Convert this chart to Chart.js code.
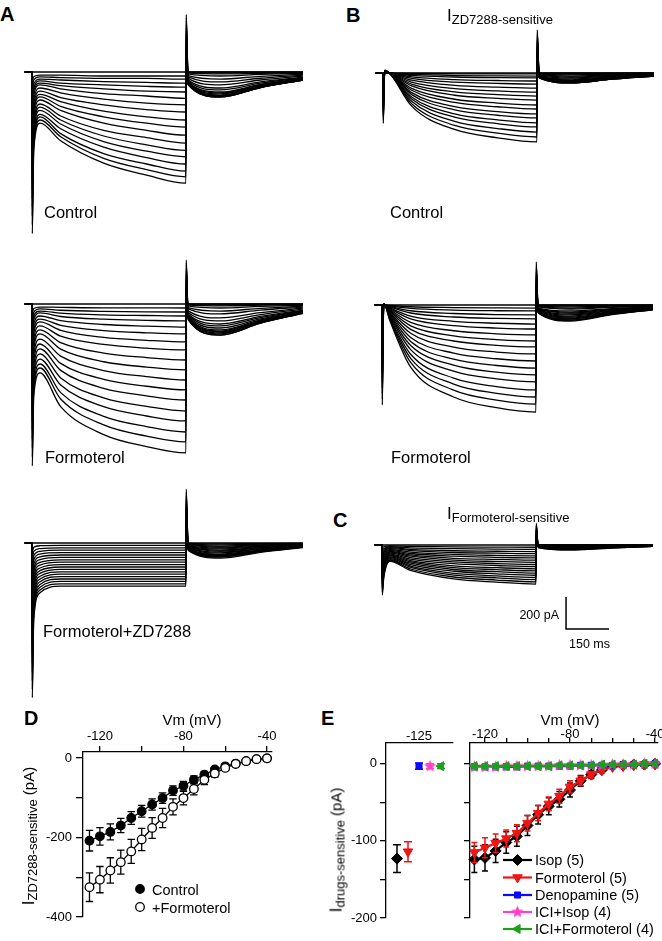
<!DOCTYPE html>
<html lang="en">
<head>
<meta charset="utf-8">
<title>Ih traces and I-V relations</title>
<script src="https://cdn.jsdelivr.net/npm/chart.js@4.4.1/dist/chart.umd.min.js"></script>
<style>
  html, body { margin: 0; padding: 0; background: #fff; }
  body { position: relative; width: 662px; height: 941px; overflow: hidden;
         font-family: "Liberation Sans", Arial, sans-serif; color: #000; }
  canvas { position: absolute; }
  .t { position: absolute; white-space: nowrap; line-height: 1; }
  .letter { font-weight: bold; font-size: 20px; }
  .cond { font-size: 16.5px; }
  .ttl { font-size: 17px; }
  .ttl sub, .yt sub { font-size: 13px; vertical-align: baseline; position: relative; top: 3px; }
  .small { font-size: 12.5px; }
  .vm { font-size: 15px; transform: translateX(-50%); }
  .yt { position: absolute; width: 0; height: 0; }
  .yt > span { position: absolute; left: 0; top: 0; white-space: nowrap; line-height: 1;
               font-size: 15px; transform: translate(-50%, -50%) rotate(-90deg); }
  .yt .big { font-size: 17px; }
</style>
</head>
<body>

<canvas id="a1"></canvas>
<canvas id="a2"></canvas>
<canvas id="a3"></canvas>
<canvas id="b1"></canvas>
<canvas id="b2"></canvas>
<canvas id="c1"></canvas>
<canvas id="d-chart" width="245" height="241" style="left:40px;top:700px"></canvas>
<canvas id="e-left" width="122" height="228" style="left:336px;top:713px"></canvas>
<canvas id="e-right" width="200" height="228" style="left:462px;top:713px"></canvas>

<div class="t letter" style="left:0;top:4px">A</div>
<div class="t letter" style="left:346px;top:5px">B</div>
<div class="t letter" style="left:333px;top:510px">C</div>
<div class="t letter" style="left:24px;top:708px">D</div>
<div class="t letter" style="left:321px;top:708px">E</div>

<div class="t ttl" style="left:447px;top:7px">I<sub>ZD7288-sensitive</sub></div>
<div class="t ttl" style="left:447px;top:505px">I<sub>Formoterol-sensitive</sub></div>

<div class="t cond" style="left:44px;top:204px">Control</div>
<div class="t cond" style="left:45px;top:449px">Formoterol</div>
<div class="t cond" style="left:43px;top:623px">Formoterol+ZD7288</div>
<div class="t cond" style="left:390px;top:204px">Control</div>
<div class="t cond" style="left:391px;top:449px">Formoterol</div>

<div class="t small" style="right:103px;top:609px">200 pA</div>
<div class="t small" style="left:569px;top:638px">150 ms</div>

<div class="t vm" style="left:192px;top:712px">Vm (mV)</div>
<div class="t vm" style="left:570px;top:712px">Vm (mV)</div>

<div class="yt" style="left:28px;top:836px"><span><span class="big">I</span><sub>ZD7288-sensitive</sub> (pA)</span></div>
<div class="yt" style="left:336px;top:850px"><span><span class="big">I</span><sub>drugs-sensitive</sub> (pA)</span></div>

<script>
(function () {
    'use strict';

    Chart.defaults.font.family = '"Liberation Sans", Arial, sans-serif';
    Chart.defaults.color = '#000';

    /* ── Trace sampling times (ms from step onset) ── */
    var HOLD_T = [-25, 0];
    var HOLD_PA = 0;
    var STEP_T = [1, 6, 28, 100, 250, 400, 537];
    var TAIL_T = [538, 545, 657, 797, 945];

    /* ── Sweeps, pA: 7 step samples then 5 tail samples, holding -40 mV down to -130 mV ── */
    var a1Sweeps = [
        [0, 0, 0, 0, 0, 0, 0, 0, 0, 0, 0, 0],
        [-55, -30, -20, -20, -25, -25, -25, 20, 0, 0, 0, 0],
        [-110, -50, -30, -35, -40, -40, -45, 40, -3, -6, -4, -2],
        [-170, -75, -45, -50, -60, -65, -70, 60, -6, -12, -8, -4],
        [-225, -100, -55, -70, -80, -90, -95, 80, -12, -25, -15, -8],
        [-280, -120, -70, -85, -105, -120, -125, 100, -22, -44, -27, -14],
        [-340, -145, -80, -105, -135, -150, -165, 120, -31, -62, -39, -20],
        [-395, -175, -100, -130, -170, -195, -205, 140, -40, -81, -50, -26],
        [-450, -200, -120, -160, -205, -235, -250, 160, -50, -100, -62, -32],
        [-505, -230, -140, -185, -245, -280, -300, 180, -56, -112, -70, -36],
        [-560, -255, -155, -215, -280, -320, -345, 200, -62, -125, -78, -40],
        [-620, -285, -175, -240, -320, -365, -395, 220, -65, -131, -81, -42],
        [-675, -320, -200, -275, -365, -410, -445, 240, -69, -137, -85, -44],
        [-730, -345, -220, -300, -400, -455, -490, 260, -72, -144, -89, -46],
        [-790, -375, -240, -325, -435, -495, -530, 280, -75, -150, -93, -48],
        [-845, -405, -265, -355, -470, -535, -575, 300, -75, -150, -93, -48],
        [-900, -435, -280, -385, -510, -575, -620, 320, -78, -156, -97, -50],
        [-955, -465, -300, -405, -540, -610, -655, 340, -78, -156, -97, -50],
        [-1010, -490, -320, -430, -570, -645, -695, 360, -78, -156, -97, -50]
    ];

    var a2Sweeps = [
        [0, 0, 0, 0, 0, 0, 0, 0, 0, 0, 0, 0],
        [-56, -28, -19, -21, -24, -24, -25, 15, 0, 0, 0, 0],
        [-112, -52, -31, -39, -46, -49, -50, 31, -3, -6, -4, -2],
        [-169, -75, -44, -57, -68, -72, -75, 46, -6, -12, -7, -4],
        [-225, -99, -56, -78, -95, -102, -106, 61, -12, -25, -15, -8],
        [-281, -127, -75, -104, -128, -138, -144, 77, -22, -44, -27, -13],
        [-337, -155, -94, -133, -166, -180, -187, 92, -31, -62, -38, -19],
        [-394, -183, -112, -165, -209, -227, -237, 107, -43, -87, -54, -26],
        [-450, -216, -137, -201, -253, -276, -287, 122, -53, -106, -66, -32],
        [-506, -249, -162, -241, -307, -335, -350, 138, -62, -125, -78, -38],
        [-562, -281, -187, -282, -361, -394, -412, 153, -69, -137, -85, -41],
        [-619, -319, -219, -326, -416, -454, -475, 168, -75, -150, -93, -45],
        [-675, -356, -250, -371, -471, -514, -537, 184, -81, -162, -100, -49],
        [-731, -394, -281, -415, -527, -574, -600, 199, -84, -169, -105, -51],
        [-787, -431, -312, -462, -587, -640, -669, 214, -87, -175, -108, -52],
        [-844, -469, -344, -506, -642, -700, -731, 230, -90, -181, -112, -54],
        [-900, -506, -375, -554, -702, -766, -800, 245, -94, -187, -116, -56],
        [-956, -539, -400, -594, -756, -826, -862, 260, -97, -194, -120, -58],
        [-1012, -577, -431, -641, -816, -891, -931, 275, -97, -194, -120, -58]
    ];

    var a3Sweeps = [
        [0, 0, 0, 0, 0, 0, 0, 0, 0, 0, 0, 0],
        [-54, -27, -17, -15, -15, -15, -15, 19, -3, -6, -4, -2],
        [-107, -53, -35, -30, -30, -30, -30, 37, -6, -12, -7, -4],
        [-161, -80, -52, -45, -45, -45, -45, 56, -9, -19, -12, -6],
        [-215, -106, -69, -60, -60, -60, -60, 75, -12, -25, -15, -8],
        [-269, -133, -87, -75, -75, -75, -75, 94, -16, -31, -19, -9],
        [-322, -160, -104, -90, -90, -90, -90, 112, -19, -37, -23, -11],
        [-376, -186, -121, -105, -105, -105, -105, 131, -22, -44, -27, -13],
        [-430, -213, -138, -120, -120, -120, -120, 150, -25, -50, -31, -15],
        [-484, -239, -156, -135, -135, -135, -135, 169, -28, -56, -35, -17],
        [-537, -266, -173, -150, -150, -150, -150, 187, -31, -62, -38, -19],
        [-591, -293, -190, -165, -165, -165, -165, 206, -34, -69, -43, -21],
        [-645, -319, -208, -180, -180, -180, -180, 225, -37, -75, -46, -22],
        [-699, -346, -225, -195, -195, -195, -195, 244, -37, -75, -46, -22],
        [-752, -372, -242, -210, -210, -210, -210, 262, -41, -81, -50, -24],
        [-806, -399, -260, -225, -225, -225, -225, 281, -41, -81, -50, -24],
        [-860, -426, -277, -240, -240, -240, -240, 300, -44, -87, -54, -26],
        [-914, -452, -294, -255, -255, -255, -255, 319, -44, -87, -54, -26],
        [-967, -479, -311, -270, -270, -270, -270, 337, -47, -94, -58, -28]
    ];

    var b1Sweeps = [
        [0, 0, 0, 0, 0, 0, 0, 0, 0, 0, 0, 0],
        [-18, 1, 0, -3, -5, -6, -6, 15, 0, 0, 0, 0],
        [-35, 2, -1, -9, -16, -18, -19, 30, -3, -6, -4, -2],
        [-52, 3, -1, -15, -25, -29, -31, 45, -3, -6, -4, -2],
        [-70, 4, -2, -24, -41, -47, -50, 60, -6, -12, -7, -4],
        [-88, 5, -2, -33, -57, -65, -69, 75, -9, -19, -12, -6],
        [-105, 6, -3, -45, -77, -88, -94, 90, -12, -25, -15, -7],
        [-122, 7, -4, -57, -98, -112, -119, 105, -16, -31, -19, -9],
        [-140, 8, -4, -69, -118, -135, -144, 120, -19, -37, -23, -11],
        [-158, 9, -5, -81, -139, -159, -169, 135, -22, -44, -27, -13],
        [-175, 10, -6, -96, -164, -188, -200, 150, -22, -44, -27, -13],
        [-192, 11, -7, -108, -184, -211, -225, 165, -25, -50, -31, -15],
        [-210, 12, -8, -123, -210, -241, -256, 180, -25, -50, -31, -15],
        [-228, 13, -8, -135, -230, -264, -281, 195, -28, -56, -35, -17],
        [-245, 14, -9, -150, -256, -293, -312, 210, -28, -56, -35, -17],
        [-262, 15, -10, -162, -276, -317, -337, 225, -28, -56, -35, -17],
        [-280, 16, -11, -177, -303, -347, -369, 240, -31, -62, -38, -19],
        [-298, 17, -12, -192, -328, -376, -400, 255, -31, -62, -38, -19],
        [-315, 18, -13, -207, -353, -405, -431, 270, -31, -62, -38, -19]
    ];

    var b2Sweeps = [
        [0, 0, 0, 0, 0, 0, 0, 0, 0, 0, 0, 0],
        [-35, 0, -3, -11, -16, -18, -19, 15, 0, 0, 0, 0],
        [-69, 1, -6, -21, -32, -36, -37, 30, -3, -6, -4, -2],
        [-104, 1, -9, -36, -53, -60, -62, 45, -6, -12, -7, -4],
        [-139, 2, -13, -50, -75, -84, -87, 60, -9, -19, -12, -6],
        [-174, 2, -18, -69, -102, -114, -119, 75, -12, -25, -15, -7],
        [-208, 3, -22, -87, -129, -144, -150, 90, -19, -37, -23, -11],
        [-243, 3, -28, -108, -161, -180, -187, 105, -22, -44, -27, -13],
        [-278, 4, -34, -130, -193, -216, -225, 120, -25, -50, -31, -15],
        [-312, 4, -39, -152, -225, -252, -262, 135, -28, -56, -35, -17],
        [-347, 5, -46, -177, -263, -294, -306, 150, -31, -62, -38, -19],
        [-382, 5, -52, -203, -301, -336, -350, 165, -34, -69, -43, -21],
        [-416, 6, -59, -228, -339, -378, -394, 180, -37, -75, -46, -22],
        [-451, 6, -66, -253, -376, -420, -437, 195, -41, -81, -50, -24],
        [-486, 7, -72, -279, -414, -462, -481, 210, -44, -87, -54, -26],
        [-520, 7, -80, -308, -457, -510, -531, 225, -44, -87, -54, -26],
        [-555, 8, -86, -333, -494, -552, -575, 240, -47, -94, -58, -28],
        [-590, 8, -93, -359, -532, -594, -619, 255, -47, -94, -58, -28],
        [-625, 9, -100, -388, -575, -642, -669, 270, -50, -100, -62, -30]
    ];

    var cSweeps = [
        [0, 0, 0, 0, 0, 0, 0, 0, 0, 0, 0, 0],
        [-17, -12, -6, -9, -12, -13, -14, 8, 0, 0, 0, 0],
        [-35, -23, -11, -18, -23, -26, -27, 15, 0, 0, 0, 0],
        [-52, -35, -17, -27, -36, -39, -41, 23, -3, -6, -4, -2],
        [-70, -46, -23, -35, -47, -51, -54, 30, -3, -6, -4, -2],
        [-87, -58, -29, -44, -59, -65, -68, 38, -3, -6, -4, -2],
        [-104, -69, -34, -53, -70, -77, -81, 46, -6, -12, -7, -4],
        [-122, -81, -40, -62, -83, -90, -95, 53, -6, -12, -7, -4],
        [-139, -92, -45, -70, -94, -103, -108, 61, -6, -12, -7, -4],
        [-157, -104, -51, -79, -106, -116, -122, 68, -9, -19, -12, -6],
        [-174, -115, -57, -88, -117, -128, -135, 76, -9, -19, -12, -6],
        [-191, -127, -63, -97, -130, -142, -149, 84, -9, -19, -12, -6],
        [-209, -138, -68, -105, -141, -154, -162, 91, -9, -19, -12, -6],
        [-226, -150, -74, -114, -153, -167, -176, 99, -12, -25, -15, -8],
        [-244, -162, -79, -123, -164, -180, -189, 106, -12, -25, -15, -8],
        [-261, -173, -85, -132, -177, -193, -203, 114, -12, -25, -15, -8],
        [-278, -185, -91, -140, -188, -205, -216, 122, -12, -25, -15, -8],
        [-296, -196, -97, -150, -200, -219, -230, 129, -16, -31, -19, -9],
        [-313, -208, -102, -159, -212, -232, -244, 137, -16, -31, -19, -9]
    ];

    /* ── Scale bar ── */
    var SCALE_MS = 150;
    var SCALE_PA = 200;

    /* ── D: ZD7288-sensitive I-V ── */
    var dVm = [-125, -120, -115, -110, -105, -100, -95, -90, -85, -80, -75, -70, -65, -60, -55, -50, -45, -40];
    var dControl = [-208, -197, -186, -170, -151, -134, -117, -101, -82, -70, -55, -42, -29, -21, -14, -8, -3, -1];
    var dControlErr = [26, 22, 20, 18, 16, 15, 14, 13, 12, 11, 10, 8, 6, 5, 4, 3, 2, 2];
    var dFormoterol = [-325, -306, -283, -262, -235, -205, -176, -151, -123, -101, -78, -55, -39, -25, -15, -8, -3, -1];
    var dFormoterolErr = [36, 33, 32, 30, 30, 28, 26, 24, 20, 17, 15, 12, 9, 6, 4, 3, 2, 2];
    var dTicksX = [-120, -100, -80, -60, -40];
    var dLabelsX = [-120, -80, -40];
    var dTicksY = [0, -100, -200, -300, -400];
    var dLabelsY = [0, -200, -400];

    /* ── E: drug-sensitive I-V ── */
    var eSeries = ['Isop (5)', 'Formoterol (5)', 'Denopamine (5)', 'ICI+Isop (4)', 'ICI+Formoterol (4)'];
    var eVm = [-125, -120, -115, -110, -105, -100, -95, -90, -85, -80, -75, -70, -65, -60, -55, -50, -45, -40];
    var eIsop = [-124, -122, -113, -102, -94, -80, -66, -55, -46, -34, -22, -14, -8, -3, -2, -1, -1, 0];
    var eIsopErr = [17, 17, 15, 14, 13, 13, 12, 11, 10, 9, 7, 5, 3, 2, 2, 1, 1, 1];
    var eForm = [-115, -109, -103, -97, -90, -77, -64, -52, -42, -30, -22, -14, -8, -4, -3, -2, -1, -1];
    var eFormErr = [13, 13, 12, 11, 11, 10, 10, 9, 9, 8, 6, 4, 3, 2, 2, 1, 1, 1];
    var eDeno = [-4, -4, -4, -4, -4, -3, -3, -3, -3, -3, -2, -2, -2, -2, -1, -1, -1, 0];
    var eDenoErr = [3, 3, 3, 3, 3, 3, 2, 2, 2, 2, 2, 2, 2, 2, 1, 1, 1, 1];
    var eIciIsop = [-4, -4, -4, -3, -3, -3, -3, -3, -2, -2, -2, -2, -2, -1, -1, -1, 0, 0];
    var eIciIsopErr = [3, 3, 3, 3, 2, 2, 2, 2, 2, 2, 2, 2, 1, 1, 1, 1, 1, 1];
    var eIciForm = [-3, -3, -3, -3, -3, -3, -3, -3, -2, -2, -2, -2, -1, -1, -1, -1, 0, 0];
    var eIciFormErr = [3, 3, 3, 3, 2, 2, 2, 2, 2, 2, 2, 2, 1, 1, 1, 1, 1, 1];
    var eTicksX = [-120, -110, -100, -90, -80, -70, -60, -50, -40];
    var eLabelsX = [-120, -80, -40];
    var eTicksY = [0, -50, -100, -150, -200];
    var eLabelsY = [0, -100, -200];
    // left inset: all drugs at -125 mV, spread side by side
    var eLeftSlot = [-2, -1, 0, 1, 2];
    var eLeftMean = [-123, -114, -3, -3, -3];
    var eLeftErr = [18, 13, 4, 3, 3];
    var eLeftTickLabel = '-125';

    /* ── Layout (pixels) ── */
    var PX_PER_MS = 43 / 150;
    var PX_PER_PA = 32 / 200;
    var tracePanels = [
        { id: 'a1', sweeps: a1Sweeps, left: 20, top: 10, w: 290, h: 235, x0: 32, base: 72 },
        { id: 'a2', sweeps: a2Sweeps, left: 20, top: 255, w: 290, h: 220, x0: 32, base: 304 },
        { id: 'a3', sweeps: a3Sweeps, left: 20, top: 482, w: 290, h: 222, x0: 32, base: 543 },
        { id: 'b1', sweeps: b1Sweeps, left: 370, top: 22, w: 290, h: 130, x0: 383, base: 73 },
        { id: 'b2', sweeps: b2Sweeps, left: 370, top: 255, w: 290, h: 160, x0: 382, base: 305 },
        { id: 'c1', sweeps: cSweeps, left: 370, top: 515, w: 290, h: 120, x0: 382, base: 545,
          scaleBar: { atMs: 642, atPa: -525 } }
    ];

    var colours = {
        black: '#000000',
        red: '#f01414',
        blue: '#0a0aff',
        magenta: '#ff40c8',
        green: '#1e9e1e'
    };

    /* ── Plugins ── */
    var scaleBarPlugin = {
        id: 'scaleBar',
        afterDraw: function (chart, args, opts) {
            var xs = chart.scales.x, ys = chart.scales.y, ctx = chart.ctx;
            var x0 = xs.getPixelForValue(opts.atMs), x1 = xs.getPixelForValue(opts.atMs + SCALE_MS);
            var y0 = ys.getPixelForValue(opts.atPa), y1 = ys.getPixelForValue(opts.atPa + SCALE_PA);
            ctx.save();
            ctx.strokeStyle = '#000';
            ctx.lineWidth = 1.5;
            ctx.beginPath();
            ctx.moveTo(x0, y1);
            ctx.lineTo(x0, y0);
            ctx.lineTo(x1, y0);
            ctx.stroke();
            ctx.restore();
        }
    };

    var errorBars = {
        id: 'errorBars',
        beforeDatasetDraw: function (chart, args) {
            var ds = chart.data.datasets[args.index];
            if (!ds.errors) return;
            var xs = chart.scales.x, ys = chart.scales.y, ctx = chart.ctx;
            var cap = ds.capHalf || 3.5;
            ctx.save();
            ctx.strokeStyle = ds.borderColor;
            ctx.lineWidth = ds.errorWidth || 1.3;
            ds.data.forEach(function (p, i) {
                var e = ds.errors[i];
                var px = xs.getPixelForValue(p.x);
                var yt = ys.getPixelForValue(p.y + e), yb = ys.getPixelForValue(p.y - e);
                ctx.beginPath();
                ctx.moveTo(px, yt); ctx.lineTo(px, yb);
                ctx.moveTo(px - cap, yt); ctx.lineTo(px + cap, yt);
                ctx.moveTo(px - cap, yb); ctx.lineTo(px + cap, yb);
                ctx.stroke();
            });
            ctx.restore();
        }
    };

    var insetLegend = {
        id: 'insetLegend',
        afterDraw: function (chart, args, opts) {
            if (!opts || !opts.rows) return;
            var ctx = chart.ctx;
            var origin = chart.canvas.getBoundingClientRect();
            chart.data.datasets.forEach(function (ds, i) {
                var y = opts.rows[i] - origin.top;
                var mx = opts.markerX - origin.left;
                ctx.save();
                if (opts.lineFrom != null) {
                    ctx.strokeStyle = ds.borderColor;
                    ctx.lineWidth = ds.borderWidth;
                    ctx.beginPath();
                    ctx.moveTo(opts.lineFrom - origin.left, y);
                    ctx.lineTo(opts.lineTo - origin.left, y);
                    ctx.stroke();
                }
                ctx.fillStyle = ds.pointBackgroundColor;
                ctx.strokeStyle = ds.pointBorderColor;
                ctx.lineWidth = ds.pointBorderWidth;
                Chart.helpers.drawPoint(ctx, {
                    pointStyle: ds.pointStyle,
                    rotation: ds.pointRotation || 0,
                    radius: ds.pointRadius,
                    borderWidth: ds.pointBorderWidth
                }, mx, y);
                ctx.fillStyle = '#000';
                ctx.font = opts.font;
                ctx.textBaseline = 'alphabetic';
                ctx.fillText(ds.label, opts.textX - origin.left, y + opts.baselineShift);
                ctx.restore();
            });
        }
    };

    /* ── Trace panels ── */
    function traceChart(p) {
        var canvas = document.getElementById(p.id);
        canvas.width = p.w;
        canvas.height = p.h;
        canvas.style.left = p.left + 'px';
        canvas.style.top = p.top + 'px';
        var times = STEP_T.concat(TAIL_T);
        var datasets = p.sweeps.map(function (row) {
            var pts = HOLD_T.map(function (t) { return { x: t, y: HOLD_PA }; });
            times.forEach(function (t, i) { pts.push({ x: t, y: row[i] }); });
            return {
                data: pts,
                borderColor: '#000000',
                borderWidth: 1.3,
                pointRadius: 0,
                fill: false,
                cubicInterpolationMode: 'monotone'
            };
        });
        var plugins = {
            legend: { display: false },
            tooltip: { enabled: false }
        };
        if (p.scaleBar) plugins.scaleBar = p.scaleBar;
        return new Chart(canvas, {
            type: 'line',
            data: { datasets: datasets },
            options: {
                responsive: false,
                animation: false,
                events: [],
                layout: { padding: 0, autoPadding: false },
                plugins: plugins,
                scales: {
                    x: {
                        type: 'linear', display: false,
                        min: (p.left - p.x0) / PX_PER_MS,
                        max: (p.left + p.w - p.x0) / PX_PER_MS
                    },
                    y: {
                        type: 'linear', display: false,
                        min: -(p.top + p.h - p.base) / PX_PER_PA,
                        max: (p.base - p.top) / PX_PER_PA
                    }
                }
            },
            plugins: p.scaleBar ? [scaleBarPlugin] : []
        });
    }
    tracePanels.forEach(traceChart);

    /* ── Shared axis builders ── */
    function toPoints(xs, ys) {
        return xs.map(function (x, i) { return { x: x, y: ys[i] }; });
    }

    function axis(opts) {
        return {
            type: 'linear',
            position: opts.position,
            min: opts.min,
            max: opts.max,
            afterBuildTicks: function (s) {
                s.ticks = opts.ticks.map(function (v) { return { value: v }; });
            },
            afterFit: function (s) {
                if (opts.position === 'top') s.height = opts.size; else s.width = opts.size;
                s.paddingLeft = s.paddingRight = s.paddingTop = s.paddingBottom = 0;
            },
            ticks: {
                display: opts.showLabels !== false,
                autoSkip: false,
                minRotation: 0,
                maxRotation: 0,
                padding: opts.padding,
                font: { size: 13 },
                color: '#000',
                callback: opts.label
            },
            grid: {
                display: opts.tickLength > 0,
                drawOnChartArea: false,
                drawTicks: true,
                tickLength: opts.tickLength,
                color: '#000',
                lineWidth: 1.3
            },
            border: { display: true, color: '#000', width: 1.3 }
        };
    }

    function pickLabel(list) {
        return function (v) { return list.indexOf(v) >= 0 ? String(v) : ''; };
    }

    /* ── D: I-V, control vs formoterol ── */
    new Chart(document.getElementById('d-chart'), {
        type: 'scatter',
        data: {
            datasets: [
                {
                    label: 'Control',
                    data: toPoints(dVm, dControl),
                    errors: dControlErr,
                    capHalf: 3.7,
                    order: 2,
                    showLine: true,
                    clip: false,
                    borderColor: colours.black,
                    borderWidth: 1.3,
                    pointStyle: 'circle',
                    pointRadius: 4.3,
                    pointBackgroundColor: colours.black,
                    pointBorderColor: colours.black,
                    pointBorderWidth: 1.2
                },
                {
                    label: '+Formoterol',
                    data: toPoints(dVm, dFormoterol),
                    errors: dFormoterolErr,
                    capHalf: 3.7,
                    order: 1,
                    showLine: true,
                    clip: false,
                    borderColor: colours.black,
                    borderWidth: 1.3,
                    pointStyle: 'circle',
                    pointRadius: 4.3,
                    pointBackgroundColor: '#ffffff',
                    pointBorderColor: colours.black,
                    pointBorderWidth: 1.3
                }
            ]
        },
        options: {
            responsive: false,
            animation: false,
            events: [],
            layout: { padding: { left: 0, top: 0, right: 13, bottom: 24 }, autoPadding: false },
            plugins: {
                legend: { display: false },
                tooltip: { enabled: false },
                insetLegend: {
                    rows: [889, 907], markerX: 140, textX: 152, baselineShift: 5.5,
                    font: '14.5px "Liberation Sans", Arial, sans-serif'
                }
            },
            scales: {
                x: axis({ position: 'top', min: -128.1, max: -37.6, ticks: dTicksX, label: pickLabel(dLabelsX),
                          size: 52, tickLength: 6, padding: 2 }),
                y: axis({ position: 'left', min: -400, max: 15, ticks: dTicksY, label: pickLabel(dLabelsY),
                          size: 43, tickLength: 7, padding: 4 })
            }
        },
        plugins: [errorBars, insetLegend]
    });

    /* ── E: marker styles ── */
    function starImage(color, r) {
        var c = document.createElement('canvas');
        var size = Math.ceil(r * 2 + 2);
        c.width = size;
        c.height = size;
        var g = c.getContext('2d');
        g.fillStyle = color;
        g.beginPath();
        for (var i = 0; i < 10; i++) {
            var rad = i % 2 ? r * 0.45 : r;
            var a = -Math.PI / 2 + i * Math.PI / 5;
            g.lineTo(size / 2 + rad * Math.cos(a), size / 2 + rad * Math.sin(a));
        }
        g.closePath();
        g.fill();
        return c;
    }

    var eStyles = [
        { color: colours.black, pointStyle: 'rectRot', radius: 5.5, rotation: 0 },
        { color: colours.red, pointStyle: 'triangle', radius: 5.5, rotation: 180 },
        { color: colours.blue, pointStyle: 'rect', radius: 4.3, rotation: 0 },
        { color: colours.magenta, pointStyle: starImage(colours.magenta, 6.5), radius: 6, rotation: 0 },
        { color: colours.green, pointStyle: 'triangle', radius: 5.2, rotation: 270 }
    ];

    function eDataset(i, data, errors, withLine, capHalf) {
        var st = eStyles[i];
        return {
            label: eSeries[i],
            data: data,
            errors: errors,
            capHalf: capHalf,
            errorWidth: 1.5,
            order: eSeries.length - i,
            showLine: withLine,
            clip: false,
            borderColor: st.color,
            borderWidth: 2.2,
            pointStyle: st.pointStyle,
            pointRotation: st.rotation,
            pointRadius: st.radius,
            pointBackgroundColor: st.color,
            pointBorderColor: st.color,
            pointBorderWidth: 1
        };
    }

    var eMeans = [eIsop, eForm, eDeno, eIciIsop, eIciForm];
    var eErrs = [eIsopErr, eFormErr, eDenoErr, eIciIsopErr, eIciFormErr];

    /* ── E left: all drugs at -125 mV ── */
    new Chart(document.getElementById('e-left'), {
        type: 'scatter',
        data: {
            datasets: eSeries.map(function (name, i) {
                return eDataset(i, [{ x: eLeftSlot[i], y: eLeftMean[i] }], [eLeftErr[i]], false, 4);
            })
        },
        options: {
            responsive: false,
            animation: false,
            events: [],
            layout: { padding: { left: 0, top: 0, right: 5, bottom: 23 }, autoPadding: false },
            plugins: { legend: { display: false }, tooltip: { enabled: false } },
            scales: {
                x: axis({ position: 'top', min: -3, max: 3.09, ticks: [0], label: function () { return eLeftTickLabel; },
                          size: 30, tickLength: 0, padding: -1 }),
                y: axis({ position: 'left', min: -200, max: 27, ticks: eTicksY, label: pickLabel(eLabelsY),
                          size: 50, tickLength: 6, padding: 3 })
            }
        },
        plugins: [errorBars]
    });

    /* ── E right: I-V for every drug ── */
    new Chart(document.getElementById('e-right'), {
        type: 'scatter',
        data: {
            datasets: eSeries.map(function (name, i) {
                return eDataset(i, toPoints(eVm, eMeans[i]), eErrs[i], true, 3);
            })
        },
        options: {
            responsive: false,
            animation: false,
            events: [],
            layout: { padding: { left: 0, top: 0, right: 4, bottom: 23 }, autoPadding: false },
            plugins: {
                legend: { display: false },
                tooltip: { enabled: false },
                insetLegend: {
                    rows: [860, 877.5, 895, 912, 929], markerX: 517.5, lineFrom: 503, lineTo: 532,
                    textX: 535, baselineShift: 5,
                    font: '14.5px "Liberation Sans", Arial, sans-serif'
                }
            },
            scales: {
                x: axis({ position: 'top', min: -127.06, max: -38.6, ticks: eTicksX, label: pickLabel(eLabelsX),
                          size: 30, tickLength: 5, padding: -4 }),
                y: axis({ position: 'left', min: -200, max: 27, ticks: eTicksY, label: function () { return ''; },
                          size: 8, tickLength: 6, padding: 0, showLabels: false })
            }
        },
        plugins: [errorBars, insetLegend]
    });
})();
</script>
</body>
</html>
